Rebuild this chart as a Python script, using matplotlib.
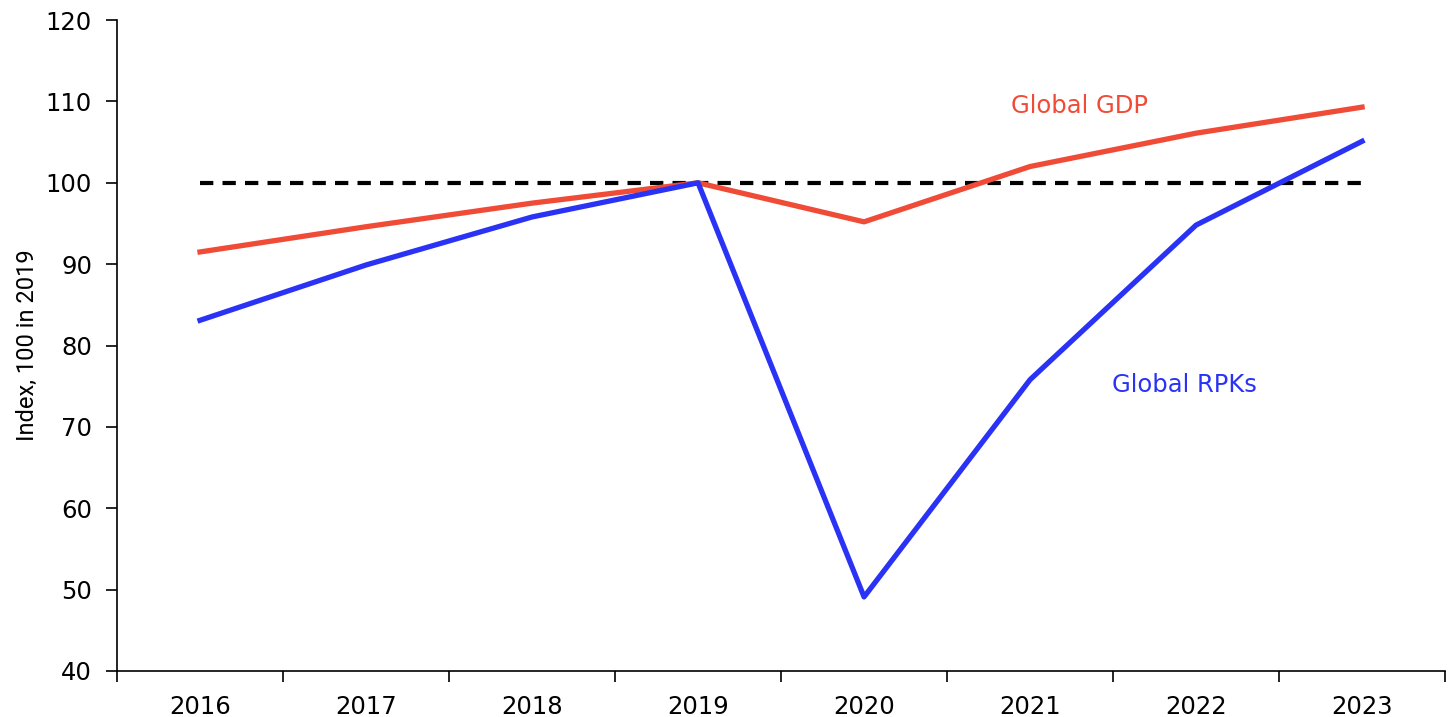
import numpy as np
import matplotlib.pyplot as plt

## data (index, 100 in 2019)
years = ['2016', '2017', '2018', '2019', '2020', '2021', '2022', '2023']
gdp = [91.5, 94.6, 97.5, 100.0, 95.2, 102.0, 106.1, 109.3]
rpk = [83.1, 89.9, 95.8, 100.0, 49.1, 75.8, 94.8, 105.1]
baseline = [100] * len(years)

red = '#F04B37'
blue = '#2A33F5'

fig = plt.figure(figsize=(14.5, 7.17), dpi=100)
ax = fig.add_axes([0.0807, 0.0642, 0.9159, 0.9078])

x = np.arange(len(years))
ax.plot(x, baseline, color='black', lw=3, linestyle=(0, (3.2, 2.2)))
ax.plot(x, gdp, color=red, lw=3.8)
ax.plot(x, rpk, color=blue, lw=3.8)

ax.text(5.3, 109.5, 'Global GDP', color=red, fontsize=17.5, ha='center', va='center')
ax.text(5.93, 75.2, 'Global RPKs', color=blue, fontsize=17.5, ha='center', va='center')

## category axis: ticks between years, labels at centres
ax.set_xlim(-0.5, len(years) - 0.5)
ax.set_xticks(np.arange(len(years) + 1) - 0.5)
ax.set_xticklabels([])
ax.set_xticks(x, minor=True)
ax.set_xticklabels(years, minor=True)
ax.tick_params(axis='x', which='major', length=8, width=1.2, direction='out')
ax.tick_params(axis='x', which='minor', length=0, pad=17, labelsize=17.5)

ax.set_ylim(40, 120)
ax.set_yticks(np.arange(40, 121, 10))
ax.tick_params(axis='y', length=8, width=1.2, direction='out', labelsize=17.5, pad=10)
ax.set_ylabel('Index, 100 in 2019', fontsize=17, family=['Roboto', 'DejaVu Sans'],
              labelpad=5)

for s in ['top', 'right']:
    ax.spines[s].set_visible(False)
for s in ['left', 'bottom']:
    ax.spines[s].set_linewidth(1.2)

fig.savefig('out.png', dpi=100)
